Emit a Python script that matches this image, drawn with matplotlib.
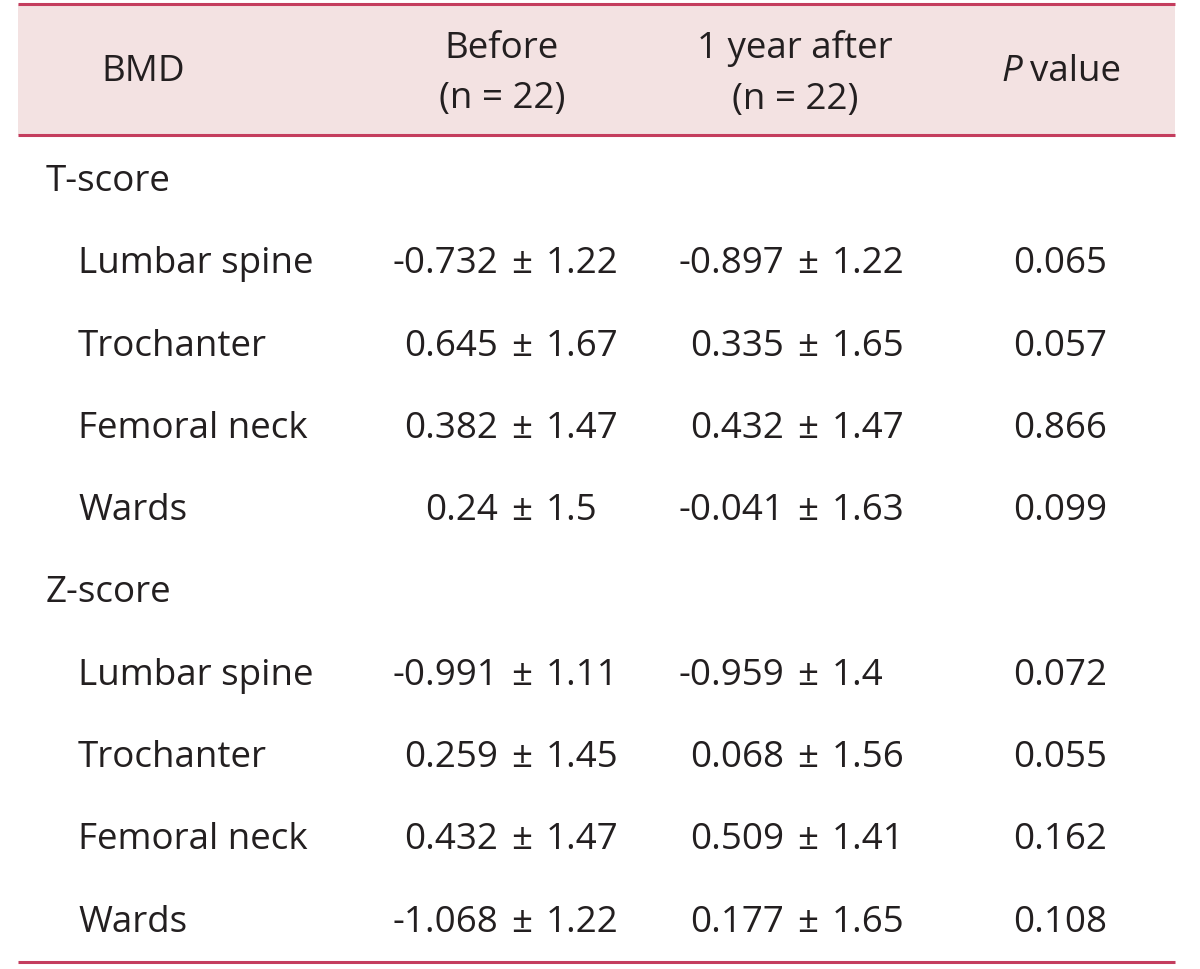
import matplotlib.pyplot as plt
from matplotlib.patches import Rectangle

plt.rcParams['font.family'] = ['Open Sans', 'DejaVu Sans']

# table contents
headers = ['BMD', 'Before\n(n = 22)', '1 year after\n(n = 22)']
groups = ['T-score', 'Z-score']
sites = ['Lumbar spine', 'Trochanter', 'Femoral neck', 'Wards']
before_mean = [['-0.732', '0.645', '0.382', '0.24'],
               ['-0.991', '0.259', '0.432', '-1.068']]
before_sd = [['1.22', '1.67', '1.47', '1.5'],
             ['1.11', '1.45', '1.47', '1.22']]
after_mean = [['-0.897', '0.335', '0.432', '-0.041'],
              ['-0.959', '0.068', '0.509', '0.177']]
after_sd = [['1.22', '1.65', '1.47', '1.63'],
            ['1.4', '1.56', '1.41', '1.65']]
p_values = [['0.065', '0.057', '0.866', '0.099'],
            ['0.072', '0.055', '0.162', '0.108']]

line_col = '#c43d5e'
head_bg = '#f3e2e2'
txt_col = '#231f20'
fs = 26.5

fig = plt.figure(figsize=(12, 9.7), dpi=100)
ax = fig.add_axes([0, 0, 1, 1])
ax.set_xlim(0, 1200)
ax.set_ylim(970, 0)
ax.axis('off')

left, right = 18, 1175
ax.add_patch(Rectangle((left, 5), right - left, 131, facecolor=head_bg, edgecolor='none'))
for y in (5, 136, 963):
    ax.plot([left, right], [y, y], color=line_col, lw=2.2, solid_capstyle='butt')

# header
head_x = [143, 502, 795]
for x, h in zip(head_x, headers):
    ax.text(x, 74 if '\n' in h else 72, h, ha='center', va='center', fontsize=fs,
            color=txt_col, linespacing=1.55)
ax.text(1022, 72, 'P', ha='right', va='center', fontsize=fs, color=txt_col, style='italic')
ax.text(1030, 72, 'value', ha='left', va='center', fontsize=fs, color=txt_col)

# body
pm_before, pm_after = 522, 808
gap = 24
y = 182
step = 82.3
for g, grp in enumerate(groups):
    ax.text(46, y, grp, ha='left', va='center', fontsize=fs, color=txt_col)
    y += step
    for i, site in enumerate(sites):
        ax.text(78, y, site, ha='left', va='center', fontsize=fs, color=txt_col)
        for xpm, m, s in ((pm_before, before_mean, before_sd), (pm_after, after_mean, after_sd)):
            ax.text(xpm - gap, y, m[g][i], ha='right', va='center', fontsize=fs, color=txt_col)
            ax.text(xpm, y, '±', ha='center', va='center', fontsize=fs, color=txt_col)
            ax.text(xpm + gap, y, s[g][i], ha='left', va='center', fontsize=fs, color=txt_col)
        ax.text(1060, y, p_values[g][i], ha='center', va='center', fontsize=fs, color=txt_col)
        y += step

fig.savefig('out.png', dpi=100, facecolor='white')
